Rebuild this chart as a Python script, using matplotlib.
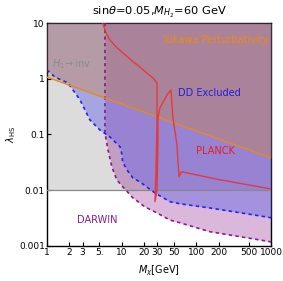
import matplotlib
matplotlib.use("Agg")
import matplotlib.pyplot as plt
import numpy as np

# DD excluded boundary (blue dashed)
dd_m = [1.0, 1.28, 1.91, 2.77, 3.76, 5.12, 6.97, 9.5, 10.1, 10.3, 11.8, 14.1, 17.5, 27.9, 44.4, 60.2, 150, 400, 1000]
dd_l = [1.44, 1.07, 0.84, 0.416, 0.182, 0.12, 0.090, 0.060, 0.043, 0.032, 0.023, 0.0166, 0.0141, 0.0089, 0.0062, 0.0057, 0.0048, 0.0039, 0.0032]

# DARWIN projection boundary (purple dashed)
dw_m = [5.97, 5.97, 6.55, 7.4, 8.6, 10.4, 14.1, 20.5, 29.7, 44.4, 60.2, 151, 400, 1000]
dw_l = [10.0, 0.107, 0.053, 0.026, 0.0153, 0.0114, 0.0073, 0.0050, 0.0039, 0.0029, 0.0026, 0.0018, 0.00145, 0.00118]

# Yukawa perturbativity (orange)
yk_m = [1.0, 1000.0]
yk_l = [1.07, 0.038]

# PLANCK relic density (red)
pl_m = [5.55, 6.2, 6.97, 8.5, 10.4, 13.5, 17.5, 22.0, 26.2, 29.7, 29.7, 28.8, 27.9, 29.7, 30.6, 30.6, 32.5, 35.7, 40.4, 45.6, 48.5, 55, 56.7, 58.5, 62.2, 66, 200, 1000]
pl_l = [10.0, 6.6, 4.95, 3.7, 2.9, 2.15, 1.62, 1.25, 1.03, 0.84, 0.18, 0.023, 0.0062, 0.010, 0.080, 0.198, 0.30, 0.38, 0.51, 0.63, 0.198, 0.065, 0.032, 0.0173, 0.0212, 0.0212, 0.0155, 0.0105]

# H1 -> inv / gray bound
gray_l = 0.01

xticks = [1, 2, 3, 5, 10, 20, 30, 50, 100, 200, 500, 1000]
xtick_labels = ["1", "2", "3", "5.", "10", "20", "30", "50", "100", "200", "500", "1000"]
yticks = [0.001, 0.01, 0.1, 1, 10]
ytick_labels = ["0.001", "0.01", "0.1", "1", "10"]

fig = plt.figure(figsize=(2.83, 2.81), dpi=100)
ax = fig.add_axes([0.166, 0.125, 0.792, 0.793])
ax.set_xscale("log")
ax.set_yscale("log")
ax.set_xlim(1, 1000)
ax.set_ylim(0.001, 10)

top = 10
# gray base region
ax.fill_between([1, 1000], gray_l, top, color="#dcdcdc", lw=0, zorder=1)
ax.axhline(gray_l, color="#888888", lw=0.9, zorder=6)

# DARWIN
ax.fill_betweenx(dw_l, dw_m, 1000, color="#800080", alpha=0.28, lw=0, zorder=2)
# DD
ax.fill_between(dd_m, dd_l, top, color="#6464e6", alpha=0.45, lw=0, zorder=3)
# Yukawa
ax.fill_between(yk_m, yk_l, top, color="#d48629", alpha=0.32, lw=0, zorder=4)

ax.plot(dw_m, dw_l, color="#8a1a8a", lw=1.2, ls=(0, (2, 2)), zorder=7)
ax.plot(dd_m, dd_l, color="#2222ee", lw=1.2, ls=(0, (2, 2)), zorder=7)
ax.plot(yk_m, yk_l, color="#e8891e", lw=1.0, zorder=8)
ax.plot(pl_m, pl_l, color="#e03c3c", lw=1.0, zorder=8)

fs = 7
ax.text(930, 4.9, "Yukawa Perturbativity", color="#f08a10", fontsize=fs, ha="right", va="center", zorder=10)
ax.text(1.15, 1.8, r"$H_1\!\rightarrow$inv", color="#8c8c8c", fontsize=fs, ha="left", va="center", zorder=10)
ax.text(57, 0.55, "DD Excluded", color="#2020e0", fontsize=fs, ha="left", va="center", zorder=10)
ax.text(100, 0.05, "PLANCK", color="#e52020", fontsize=fs, ha="left", va="center", zorder=10)
ax.text(2.5, 0.0029, "DARWIN", color="#8a1a8a", fontsize=fs, ha="left", va="center", zorder=10)

ax.set_xticks(xticks)
ax.set_xticklabels(xtick_labels)
ax.set_yticks(yticks)
ax.set_yticklabels(ytick_labels)
ax.minorticks_off()
ax.tick_params(direction="in", length=3, width=0.8, labelsize=6.5, pad=1.5)
for s in ax.spines.values():
    s.set_linewidth(1.0)

ax.set_xlabel(r"$M_\chi$[GeV]", fontsize=7, labelpad=5)
ax.set_ylabel(r"$\lambda_{\rm HS}$", fontsize=7, labelpad=1)
ax.set_title(r"sin$\theta$=0.05,$M_{H_2}$=60 GeV", fontsize=8.2, pad=6)

fig.savefig("out.png", dpi=100)
